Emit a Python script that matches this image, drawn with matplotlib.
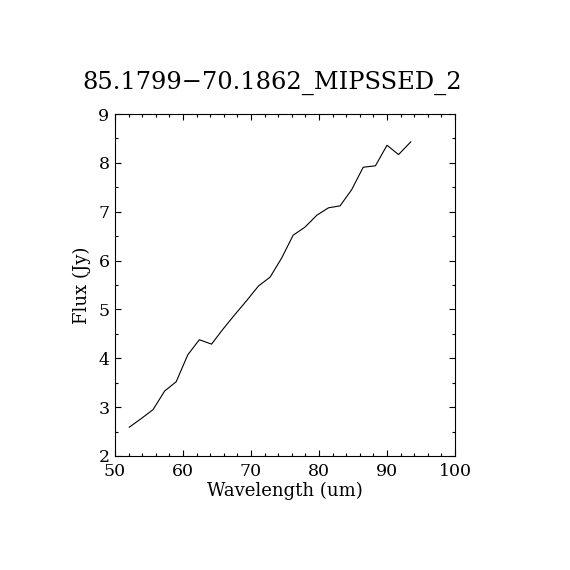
import matplotlib
matplotlib.use('Agg')
import matplotlib.pyplot as plt
from matplotlib.ticker import MultipleLocator

wavelength = [52.1, 53.8, 55.6, 57.3, 59.0, 60.7, 62.4, 64.2, 65.9, 67.6,
              69.3, 71.1, 72.8, 74.5, 76.2, 77.9, 79.7, 81.4, 83.1, 84.8,
              86.5, 88.3, 90.0, 91.7, 93.5]
flux = [2.59, 2.76, 2.95, 3.33, 3.52, 4.07, 4.38, 4.29, 4.60, 4.89,
        5.17, 5.48, 5.66, 6.05, 6.52, 6.68, 6.93, 7.08, 7.12, 7.45,
        7.91, 7.94, 8.36, 8.17, 8.43]

plt.rcParams['font.family'] = ['DejaVu Serif']

fig = plt.figure(figsize=(5.7, 5.7), dpi=100)
ax = fig.add_axes([115/570, 114/570, 340/570, 342/570])

ax.plot(wavelength, flux, color='black', linewidth=0.8)

ax.set_xlim(50, 100)
ax.set_ylim(2, 9)
ax.xaxis.set_major_locator(MultipleLocator(10))
ax.xaxis.set_minor_locator(MultipleLocator(2))
ax.yaxis.set_major_locator(MultipleLocator(1))
ax.yaxis.set_minor_locator(MultipleLocator(0.5))
ax.tick_params(which='both', direction='in', top=True, right=True,
               labelsize=12.5, width=0.8)
ax.tick_params(axis='x', which='major', pad=5)
ax.tick_params(axis='y', which='major', pad=4)
ax.tick_params(which='major', length=4.3)
ax.tick_params(which='minor', length=2)
for s in ax.spines.values():
    s.set_linewidth(0.8)

ax.set_xlabel('Wavelength (um)', fontsize=13, labelpad=1)
ax.set_ylabel('Flux (Jy)', fontsize=13, labelpad=5)
ax.set_title('85.1799\u221270.1862_MIPSSED_2', fontsize=17.4, pad=18, x=0.462)

fig.savefig('out.png', dpi=100)
